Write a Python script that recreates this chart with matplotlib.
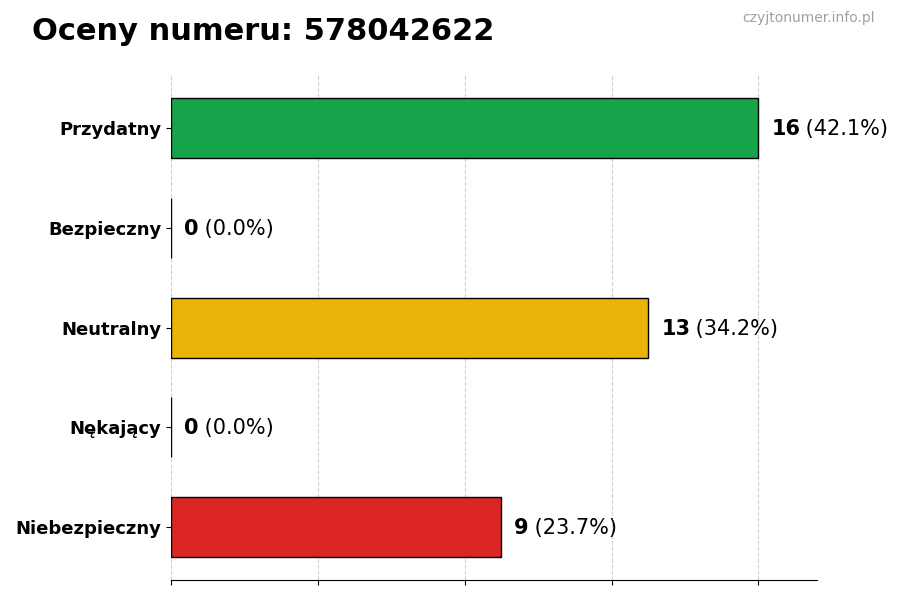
import matplotlib
matplotlib.use("Agg")
import matplotlib.pyplot as plt

# dane
categories = ["Przydatny", "Bezpieczny", "Neutralny", "Nękający", "Niebezpieczny"]
counts = [16, 0, 13, 0, 9]
colors = ["#16a34a", "#9ca3af", "#eab308", "#f97316", "#dc2626"]
number = "578042622"

total = sum(counts)
xmax = max(counts) * 1.1

fig = plt.figure(figsize=(9, 6), dpi=100)
ax = fig.add_axes([0.19, 0.033, 0.718, 0.842])

ypos = list(range(len(categories)))[::-1]
ax.barh(ypos, counts, height=0.6, color=colors, edgecolor="black",
        linewidth=1.0, zorder=3)

for y, c in zip(ypos, counts):
    pct = 100.0 * c / total if total else 0.0
    x = c + xmax * 0.02
    t = ax.text(x, y - 0.01, f"{c}", va="center", ha="left", fontsize=15,
                fontweight="bold")
    fig.canvas.draw()
    bb = t.get_window_extent().transformed(ax.transData.inverted())
    ax.text(bb.x1, y - 0.01, f" ({pct:.1f}%)", va="center", ha="left",
            fontsize=15)

ax.set_yticks(ypos)
ax.set_yticklabels(categories, fontsize=13, fontweight="bold")
ax.set_xlim(0, xmax)
ax.set_xticks([0, 4, 8, 12, 16])
ax.set_xticklabels([])
ax.grid(axis="x", linestyle="--", color="#d0d0d0", linewidth=0.8, zorder=0)
for s in ("top", "right", "left"):
    ax.spines[s].set_visible(False)

fig.text(0.035, 0.947, f"Oceny numeru: {number}", fontsize=22,
         fontweight="bold", ha="left", va="center")
fig.text(0.972, 0.97, "czyjtonumer.info.pl", fontsize=10, color="#a0a0a0",
         ha="right", va="center")

fig.savefig("out.png", dpi=100)
